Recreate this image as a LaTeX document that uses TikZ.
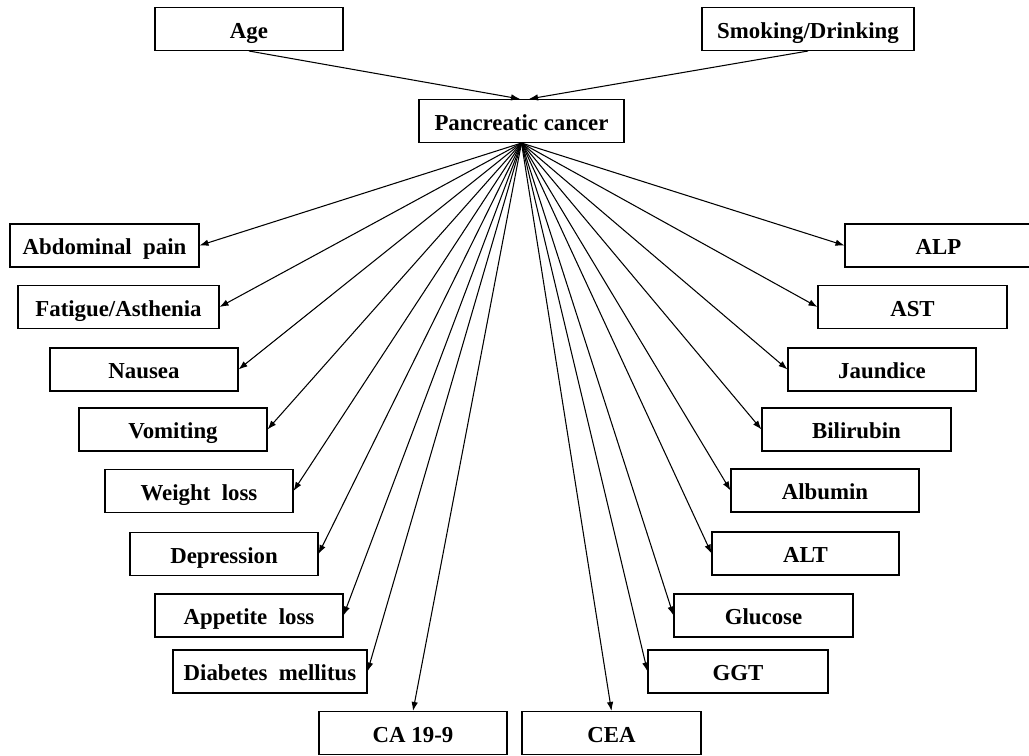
\documentclass[tikz,border=0pt]{standalone}
\usepackage{fontspec}
\setmainfont{Liberation Serif}
\usetikzlibrary{arrows.meta}
\tikzset{
	box/.style={draw=black, line width=0.6pt, inner sep=0pt, minimum width=3.76cm, minimum height=0.86cm, text height=10.3pt, text depth=0pt, font=\fontsize{13}{15}\selectfont\bfseries},
	link/.style={draw=black, -{Latex[length=1.8mm, width=1.3mm]}, line width=0.6pt}
}
\begin{document}
\begin{tikzpicture}[x=0.02cm, y=-0.02cm]
		\useasboundingbox (0,0) rectangle (1029,756);
		% top
		\node[box] (age) at (249,29) {Age};
		\node[box, minimum width=4.24cm] (smk) at (808,29) {Smoking/Drinking};
		\node[box, minimum width=4.10cm] (pc) at (521.5,121) {Pancreatic cancer};
		% left
		\node[box, minimum width=3.78cm] (abd) at (104.5,245.5) {Abdominal\ \ pain};
		\node[box, minimum width=4.02cm] (fat) at (118.5,307) {Fatigue/Asthenia};
		\node[box] (nau) at (144,369.5) {Nausea};
		\node[box] (vom) at (173,429.5) {Vomiting};
		\node[box] (wl) at (199,491) {Weight\ \ loss};
		\node[box] (dep) at (224,554) {Depression};
		\node[box] (app) at (249,615.5) {Appetite\ \ loss};
		\node[box, minimum width=3.88cm] (dia) at (270,671.5) {Diabetes\ \ mellitus};
		% bottom
		\node[box] (ca) at (413,733) {CA 19-9};
		\node[box, minimum width=3.58cm] (cea) at (611.5,733) {CEA};
		% right
		\node[box, minimum width=3.60cm] (ggt) at (738,671.5) {GGT};
		\node[box, minimum width=3.58cm] (glu) at (763.5,615.5) {Glucose};
		\node[box, minimum width=3.74cm] (alt) at (805.5,553.5) {ALT};
		\node[box] (alb) at (825,490.5) {Albumin};
		\node[box, minimum width=3.78cm] (bil) at (856.5,429.5) {Bilirubin};
		\node[box] (jau) at (882,369.5) {Jaundice};
		\node[box, minimum width=3.78cm] (ast) at (912.5,307) {AST};
		\node[box, minimum width=3.74cm] (alp) at (938.5,245.5) {ALP};
		% arrows in
		\draw[link] (age.south) -- ([xshift=-0.03cm]pc.north);
		\draw[link] (smk.south) -- ([xshift=0.15cm]pc.north);
		% arrows out
		\draw[link] (pc.south) -- (abd.east);
		\draw[link] (pc.south) -- (fat.east);
		\draw[link] (pc.south) -- (nau.east);
		\draw[link] (pc.south) -- (vom.east);
		\draw[link] (pc.south) -- (wl.east);
		\draw[link] (pc.south) -- (dep.east);
		\draw[link] (pc.south) -- (app.east);
		\draw[link] (pc.south) -- (dia.east);
		\draw[link] (pc.south) -- (ca.north);
		\draw[link] (pc.south) -- (cea.north);
		\draw[link] (pc.south) -- (ggt.west);
		\draw[link] (pc.south) -- (glu.west);
		\draw[link] (pc.south) -- (alt.west);
		\draw[link] (pc.south) -- (alb.west);
		\draw[link] (pc.south) -- (bil.west);
		\draw[link] (pc.south) -- (jau.west);
		\draw[link] (pc.south) -- (ast.west);
		\draw[link] (pc.south) -- (alp.west);
	\end{tikzpicture}
\end{document}
